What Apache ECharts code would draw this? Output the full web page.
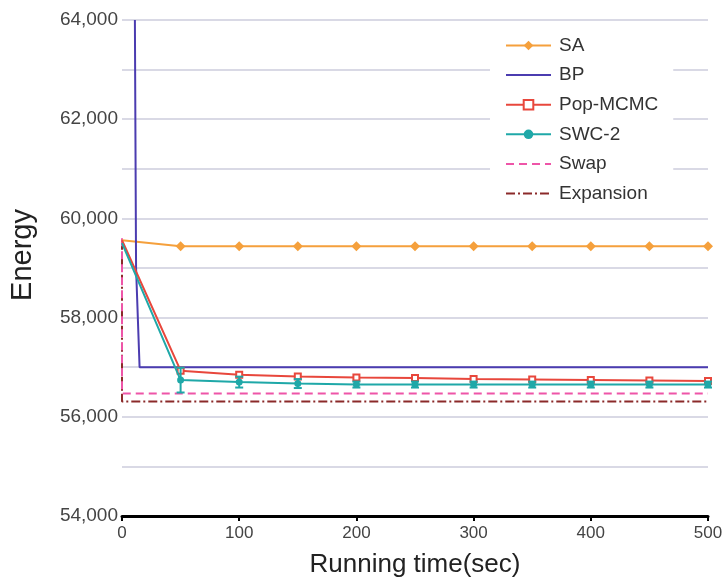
<!DOCTYPE html>
<html><head><meta charset="utf-8">
<script src="https://cdn.jsdelivr.net/npm/echarts@6/dist/echarts.min.js"></script>
<style>html,body{margin:0;padding:0;background:#fff}#c{width:725px;height:582px}</style>
</head><body><div id="c"></div>
<script>
const saData = [[0,59560],[50,59440],[100,59440],[150,59440],[200,59440],[250,59440],[300,59440],[350,59440],[400,59440],[450,59440],[500,59440]];
const bpData = [[11,64000],[12,59000],[15,57000],[500,57000]];
const popData = [[0,59560],[50,56930],[100,56850],[150,56810],[200,56790],[250,56780],[300,56760],[350,56750],[400,56740],[450,56730],[500,56720]];
const swcData = [[0,59500],[50,56740],[100,56700],[150,56670],[200,56650],[250,56650],[300,56650],[350,56650],[400,56650],[450,56650],[500,56650]];
const swcErr = [0,250,110,90,60,60,60,60,60,60,60];
const swapData = [[0,59600],[0,56470],[500,56470]];
const expData = [[0,59550],[0,56310],[500,56310]];
const yTicks = [54000,56000,58000,60000,62000,64000];

const errBars = swcData.slice(1).map((p,i)=>[p[0], p[1]-swcErr[i+1], p[1]+swcErr[i+1]]);
const noFirst = arr => arr.map((p,i)=> i===0 ? {value:p, symbol:'none'} : p);
const SANS = '"Liberation Sans", Arial, sans-serif';

const chart = echarts.init(document.getElementById('c'));
chart.setOption({
  animation:false,
  grid:{left:122,right:17,top:20,bottom:66,outerBoundsMode:'none',containLabel:false},
  legend:{
    orient:'vertical', left:490, top:30, itemWidth:45, itemHeight:12, itemGap:10.6,
    backgroundColor:'#fff', padding:[6,15,8,15],
    textStyle:{fontSize:19,color:'#333',fontFamily:SANS,padding:[0,0,0,3]},
    data:['SA',{name:'BP',itemStyle:{opacity:0}},'Pop-MCMC','SWC-2',
      {name:'Swap',itemStyle:{opacity:0}},{name:'Expansion',itemStyle:{opacity:0}}]
  },
  xAxis:{type:'value',min:0,max:500,interval:100,
    name:'Running time(sec)',nameLocation:'middle',nameGap:36,nameMoveOverlap:false,
    nameTextStyle:{fontSize:26,color:'#222',fontFamily:SANS},
    axisLine:{lineStyle:{color:'#000',width:3}},
    axisTick:{show:true,length:5,lineStyle:{color:'#000',width:2}},
    axisLabel:{fontSize:17,color:'#444',margin:9,fontFamily:SANS},
    splitLine:{show:false}},
  yAxis:{type:'value',min:54000,max:64000,interval:1000,
    name:'Energy',nameLocation:'middle',nameGap:85,nameMoveOverlap:false,
    nameTextStyle:{fontSize:29,color:'#222',fontFamily:SANS,padding:[0,0,0,26]},
    axisLine:{show:false},axisTick:{show:false},
    axisLabel:{fontSize:19,color:'#444',margin:4,fontFamily:SANS,
      formatter:v=>yTicks.includes(v)?v.toLocaleString('en-US'):''},
    splitLine:{lineStyle:{color:'#cdcddc',width:1.5}}},
  series:[
    {name:'Expansion',type:'line',data:expData,symbol:'none',z:2,
      lineStyle:{color:'#8b2a2a',width:2,type:[9,3,2,3]},itemStyle:{color:'#8b2a2a'}},
    {name:'Swap',type:'line',data:swapData,symbol:'none',z:2,
      lineStyle:{color:'#ee55a8',width:2,type:[8,5]},itemStyle:{color:'#ee55a8'}},
    {name:'SA',type:'line',data:noFirst(saData),symbol:'diamond',symbolSize:10,showSymbol:true,z:3,
      lineStyle:{color:'#f5a03c',width:2},itemStyle:{color:'#f5a03c'}},
    {name:'BP',type:'line',data:bpData,symbol:'none',z:3,
      lineStyle:{color:'#4b3cb0',width:2},itemStyle:{color:'#4b3cb0'}},
    {name:'Pop-MCMC',type:'line',data:noFirst(popData),symbol:'rect',symbolSize:6,z:4,
      lineStyle:{color:'#e8473c',width:2},itemStyle:{color:'#fff',borderColor:'#e8473c',borderWidth:2}},
    {name:'SWC-2',type:'line',data:noFirst(swcData),symbol:'circle',symbolSize:7,z:5,
      lineStyle:{color:'#1fa8a8',width:2},itemStyle:{color:'#1fa8a8'}},
    {name:'SWC-2 err',type:'custom',data:errBars,z:5,silent:true,
      renderItem:function(params,api){
        const x=api.value(0);
        const lo=api.coord([x,api.value(1)]);
        const hi=api.coord([x,api.value(2)]);
        const w=4;
        const st={stroke:'#1fa8a8',lineWidth:2};
        return {type:'group',children:[
          {type:'line',shape:{x1:lo[0],y1:lo[1],x2:hi[0],y2:hi[1]},style:st},
          {type:'line',shape:{x1:lo[0]-w,y1:lo[1],x2:lo[0]+w,y2:lo[1]},style:st},
          {type:'line',shape:{x1:hi[0]-w,y1:hi[1],x2:hi[0]+w,y2:hi[1]},style:st}
        ]};
      }}
  ]
});
</script></body></html>
